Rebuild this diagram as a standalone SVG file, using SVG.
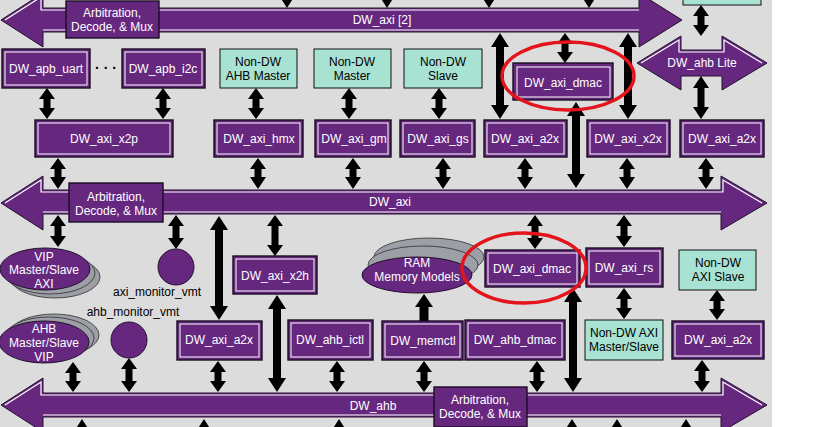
<svg xmlns="http://www.w3.org/2000/svg" width="816" height="427" viewBox="0 0 816 427">
<style>
.bar{fill:#66287f;stroke:#24102f;stroke-width:1}
.hl{fill:none;stroke:#ffffff;stroke-width:1.2}
.bx{fill:#66287f;stroke:#1a0c22;stroke-width:1.4}
.bi{fill:none;stroke:#ffffff;stroke-width:1}
.tl{fill:#a8e2d3;stroke:#111;stroke-width:1}
.el{fill:#66287f;stroke:#24102f;stroke-width:1}
.sh{fill:#9c9fa6;stroke:#2e2e2e;stroke-width:0.8}
.arr{fill:#000}
.red{fill:none;stroke:#e3141b;stroke-width:3.5}
text{font-family:"Liberation Sans",Arial,sans-serif;font-size:12px;text-anchor:middle;fill:#fff}
.k{fill:#000}
</style>
<rect x="0" y="0" width="816" height="427" fill="#fff"/>
<rect x="0" y="0" width="772" height="427" fill="#dcdcdc"/>

<g id="bus-axi2">
<polygon class="bar" points="1,20 43,-7 43,8 639,8 639,-7 682,20 639,47 639,32 43,32 43,47"/>
<polyline class="hl" points="5,20 41,-3 41,10 639,10"/>
<polyline class="hl" points="43,30 639,30"/>
<text x="382" y="24">DW_axi [2]</text>
</g>
<g id="bus-axi">
<polygon class="bar" points="1,203 43,176 43,190 721,190 721,176 767,203 721,230 721,214 43,214 43,230"/>
<polyline class="hl" points="5,203 41,180 41,192 723,192 723,180 762,203"/>
<polyline class="hl" points="43,212 721,212"/>
<text x="390" y="206">DW_axi</text>
</g>
<g id="bus-ahb">
<polygon class="bar" points="1,405 43,378 43,393 721,393 721,378 767,405 721,432 721,417 43,417 43,432"/>
<polyline class="hl" points="5,405 41,382 41,395 723,395 723,382 762,405"/>
<polyline class="hl" points="43,415 721,415"/>
<text x="373" y="410">DW_ahb</text>
</g>
<g id="bus-ahblite">
<polygon class="bar" points="637,63 681,36 681,50 722,50 722,36 767,63 722,90 722,76 681,76 681,90"/>
<polyline class="hl" points="641,63 679,40 679,52 724,52 724,40 762,63"/>
<text x="702" y="67">DW_ahb Lite</text>
</g>

<g id="arb-top"><rect class="bx" x="66" y="1" width="93" height="37"/><text x="112" y="17">Arbitration,</text><text x="112" y="31">Decode, &amp; Mux</text></g>
<g id="arb-mid"><rect class="bx" x="69" y="183" width="94" height="39"/><text x="116" y="201">Arbitration,</text><text x="116" y="215">Decode, &amp; Mux</text></g>
<g id="arb-bot"><rect class="bx" x="434" y="387" width="93" height="40"/><text x="480" y="404">Arbitration,</text><text x="480" y="418">Decode, &amp; Mux</text></g>

<g id="connectors" class="arr">
<polygon points="284,-12 290,-12 290,-3 294,-3 287,8 280,-3 284,-3"/>
<polygon points="384,-12 390,-12 390,-3 394,-3 387,8 380,-3 384,-3"/>
<polygon points="486,-12 492,-12 492,-3 496,-3 489,8 482,-3 486,-3"/>
<polygon points="586,-12 592,-12 592,-3 596,-3 589,8 582,-3 586,-3"/>
<polygon points="47,88 55,99 50.5,99 50.5,108 55,108 47,119 39,108 43.5,108 43.5,99 39,99"/>
<polygon points="163,88 171,99 166.5,99 166.5,108 171,108 163,119 155,108 159.5,108 159.5,99 155,99"/>
<polygon points="256,88 264,99 259.5,99 259.5,108 264,108 256,119 248,108 252.5,108 252.5,99 248,99"/>
<polygon points="349,88 357,99 352.5,99 352.5,108 357,108 349,119 341,108 345.5,108 345.5,99 341,99"/>
<polygon points="439,88 447,99 442.5,99 442.5,108 447,108 439,119 431,108 435.5,108 435.5,99 431,99"/>
<polygon points="565,33 573,44 568.5,44 568.5,52 573,52 565,63 557,52 561.5,52 561.5,44 557,44"/>
<polygon points="701,5 709,16 704.5,16 704.5,25 709,25 701,36 693,25 697.5,25 697.5,16 693,16"/>
<polygon points="701,76 709,88 704.5,88 704.5,107 709,107 701,119 693,107 697.5,107 697.5,88 693,88"/>
<polygon points="500,33 509,47 504,47 504,105 509,105 500,119 491,105 496,105 496,47 491,47"/>
<polygon points="628,33 637,47 632,47 632,105 637,105 628,119 619,105 624,105 624,47 619,47"/>
<polygon points="576,102 585,116 580,116 580,174 585,174 576,188 567,174 572,174 572,116 567,116"/>
<polygon points="58,158 66,169 61.5,169 61.5,177 66,177 58,189 50,177 54.5,177 54.5,169 50,169"/>
<polygon points="258,158 266,169 261.5,169 261.5,177 266,177 258,189 250,177 254.5,177 254.5,169 250,169"/>
<polygon points="353,158 361,169 356.5,169 356.5,177 361,177 353,189 345,177 349.5,177 349.5,169 345,169"/>
<polygon points="443,158 451,169 446.5,169 446.5,177 451,177 443,189 435,177 439.5,177 439.5,169 435,169"/>
<polygon points="525,158 533,169 528.5,169 528.5,177 533,177 525,189 517,177 521.5,177 521.5,169 517,169"/>
<polygon points="627,158 635,169 630.5,169 630.5,177 635,177 627,189 619,177 623.5,177 623.5,169 619,169"/>
<polygon points="706,158 714,169 709.5,169 709.5,177 714,177 706,189 698,177 702.5,177 702.5,169 698,169"/>
<polygon points="58,215 66,226 61.5,226 61.5,236 66,236 58,247 50,236 54.5,236 54.5,226 50,226"/>
<polygon points="176,215 184,226 179.5,226 179.5,238 184,238 176,249 168,238 172.5,238 172.5,226 168,226"/>
<polygon points="275,215 283,226 278.5,226 278.5,245 283,245 275,256 267,245 271.5,245 271.5,226 267,226"/>
<polygon points="535,215 543,226 538.5,226 538.5,238 543,238 535,249 527,238 531.5,238 531.5,226 527,226"/>
<polygon points="624,215 632,226 627.5,226 627.5,236 632,236 624,247 616,236 620.5,236 620.5,226 616,226"/>
<polygon points="219,216 228,230 223,230 223,306 228,306 219,320 210,306 215,306 215,230 210,230"/>
<polygon points="624,288 632,299 627.5,299 627.5,308 632,308 624,319 616,308 620.5,308 620.5,299 616,299"/>
<polygon points="717,290 725,301 720.5,301 720.5,309 725,309 717,320 709,309 713.5,309 713.5,301 709,301"/>
<polygon points="424,294 433,307 428.5,307 428.5,321 419.5,321 419.5,307 415,307"/>
<polygon points="277,295 286,309 281,309 281,378 286,378 277,392 268,378 273,378 273,309 268,309"/>
<polygon points="573,288 582,302 577,302 577,378 582,378 573,392 564,378 569,378 569,302 564,302"/>
<polygon points="73,362 81,373 76.5,373 76.5,381 81,381 73,392 65,381 69.5,381 69.5,373 65,373"/>
<polygon points="129,358 137,369 132.5,369 132.5,381 137,381 129,392 121,381 125.5,381 125.5,369 121,369"/>
<polygon points="218,361 226,372 221.5,372 221.5,381 226,381 218,392 210,381 214.5,381 214.5,372 210,372"/>
<polygon points="337,361 345,372 340.5,372 340.5,381 345,381 337,392 329,381 333.5,381 333.5,372 329,372"/>
<polygon points="424,361 432,372 427.5,372 427.5,381 432,381 424,392 416,381 420.5,381 420.5,372 416,372"/>
<polygon points="537,361 545,372 540.5,372 540.5,381 545,381 537,392 529,381 533.5,381 533.5,372 529,372"/>
<polygon points="702,360 710,371 705.5,371 705.5,381 710,381 702,392 694,381 698.5,381 698.5,371 694,371"/>
<polygon points="82,419 89,430 85,430 85,440 79,440 79,430 75,430"/>
<polygon points="204,419 211,430 207,430 207,440 201,440 201,430 197,430"/>
<polygon points="339,419 346,430 342,430 342,440 336,440 336,430 332,430"/>
<polygon points="572,419 579,430 575,430 575,440 569,440 569,430 565,430"/>
<polygon points="617,419 624,430 620,430 620,440 614,440 614,430 610,430"/>
<polygon points="686,419 693,430 689,430 689,440 683,440 683,430 679,430"/>
</g>

<g id="apb-uart"><rect class="bx" x="2" y="49" width="88" height="39"/><rect class="bi" x="5" y="52" width="82" height="33"/><text x="46" y="73">DW_apb_uart</text></g>
<g id="dots"><text class="k" x="106" y="73" style="font-size:14px;font-weight:bold">· · ·</text></g>
<g id="apb-i2c"><rect class="bx" x="122" y="49" width="83" height="39"/><rect class="bi" x="125" y="52" width="77" height="33"/><text x="163" y="73">DW_apb_i2c</text></g>
<g id="nondw-ahb-master"><rect class="tl" x="220" y="49" width="77" height="39"/><text class="k" x="258" y="66">Non-DW</text><text class="k" x="258" y="80">AHB Master</text></g>
<g id="nondw-master"><rect class="tl" x="314" y="49" width="77" height="39"/><text class="k" x="352" y="66">Non-DW</text><text class="k" x="352" y="80">Master</text></g>
<g id="nondw-slave"><rect class="tl" x="404" y="49" width="78" height="39"/><text class="k" x="443" y="66">Non-DW</text><text class="k" x="443" y="80">Slave</text></g>
<g id="axi-dmac-top"><rect class="bx" x="513" y="63" width="100" height="37"/><rect class="bi" x="517" y="67" width="93" height="30"/><text x="563" y="87">DW_axi_dmac</text></g>
<g id="teal-top"><rect class="tl" x="683" y="-30" width="78" height="35"/></g>

<g id="axi-x2p"><rect class="bx" x="35" y="120" width="138" height="37"/><rect class="bi" x="38" y="123" width="132" height="31"/><text x="104" y="143">DW_axi_x2p</text></g>
<g id="axi-hmx"><rect class="bx" x="214" y="120" width="89" height="37"/><rect class="bi" x="217" y="123" width="83" height="31"/><text x="259" y="143">DW_axi_hmx</text></g>
<g id="axi-gm"><rect class="bx" x="315" y="120" width="76" height="37"/><rect class="bi" x="318" y="123" width="70" height="31"/><text x="354" y="143">DW_axi_gm</text></g>
<g id="axi-gs"><rect class="bx" x="400" y="120" width="75" height="37"/><rect class="bi" x="403" y="123" width="69" height="31"/><text x="438" y="143">DW_axi_gs</text></g>
<g id="axi-a2x-1"><rect class="bx" x="484" y="120" width="83" height="37"/><rect class="bi" x="487" y="123" width="77" height="31"/><text x="525" y="143">DW_axi_a2x</text></g>
<g id="axi-x2x"><rect class="bx" x="587" y="120" width="83" height="37"/><rect class="bi" x="590" y="123" width="77" height="31"/><text x="628" y="143">DW_axi_x2x</text></g>
<g id="axi-a2x-2"><rect class="bx" x="680" y="120" width="84" height="37"/><rect class="bi" x="683" y="123" width="78" height="31"/><text x="722" y="143">DW_axi_a2x</text></g>

<g id="vip-axi">
<ellipse class="sh" cx="55" cy="277" rx="45" ry="21"/><ellipse class="sh" cx="50" cy="273" rx="45" ry="21"/>
<ellipse class="el" cx="45" cy="269" rx="45" ry="21"/>
<text x="44" y="261">VIP</text><text x="44" y="274">Master/Slave</text><text x="44" y="288">AXI</text>
</g>
<g id="axi-monitor"><circle class="el" cx="176" cy="267" r="18"/><text class="k" x="157" y="296">axi_monitor_vmt</text></g>
<g id="axi-x2h"><rect class="bx" x="233" y="256" width="84" height="38"/><rect class="bi" x="236" y="259" width="78" height="32"/><text x="275" y="280">DW_axi_x2h</text></g>
<g id="ram">
<ellipse class="sh" cx="429" cy="257" rx="55" ry="19"/><ellipse class="sh" cx="423" cy="265" rx="55" ry="19"/>
<ellipse class="el" cx="417" cy="275" rx="55" ry="18"/>
<text x="417" y="267">RAM</text><text x="417" y="281">Memory Models</text>
</g>
<g id="axi-dmac-mid"><rect class="bx" x="485" y="250" width="95" height="37"/><rect class="bi" x="488" y="253" width="89" height="31"/><text x="532" y="273">DW_axi_dmac</text></g>
<g id="axi-rs"><rect class="bx" x="586" y="248" width="77" height="39"/><rect class="bi" x="589" y="251" width="71" height="33"/><text x="624" y="272">DW_axi_rs</text></g>
<g id="nondw-axi-slave"><rect class="tl" x="679" y="250" width="77" height="40"/><text class="k" x="718" y="267">Non-DW</text><text class="k" x="718" y="281">AXI Slave</text></g>

<g id="ahb-monitor"><text class="k" x="133" y="316">ahb_monitor_vmt</text><circle class="el" cx="129" cy="340" r="18"/></g>
<g id="vip-ahb">
<ellipse class="sh" cx="54" cy="335" rx="45" ry="21"/><ellipse class="sh" cx="49" cy="338" rx="45" ry="21"/>
<ellipse class="el" cx="44" cy="342" rx="45" ry="21"/>
<text x="44" y="333">AHB</text><text x="44" y="347">Master/Slave</text><text x="44" y="361">VIP</text>
</g>
<g id="axi-a2x-3"><rect class="bx" x="177" y="321" width="85" height="39"/><rect class="bi" x="180" y="324" width="79" height="33"/><text x="219" y="344">DW_axi_a2x</text></g>
<g id="ahb-ictl"><rect class="bx" x="288" y="320" width="85" height="40"/><rect class="bi" x="291" y="323" width="79" height="34"/><text x="330" y="344">DW_ahb_ictl</text></g>
<g id="memctl"><rect class="bx" x="382" y="321" width="81" height="39"/><rect class="bi" x="385" y="324" width="75" height="33"/><text x="423" y="345">DW_memctl</text></g>
<g id="ahb-dmac"><rect class="bx" x="465" y="320" width="100" height="40"/><rect class="bi" x="468" y="323" width="94" height="34"/><text x="515" y="344">DW_ahb_dmac</text></g>
<g id="nondw-axi-ms"><rect class="tl" x="585" y="320" width="78" height="40"/><text class="k" x="624" y="337">Non-DW AXI</text><text class="k" x="624" y="351">Master/Slave</text></g>
<g id="axi-a2x-4"><rect class="bx" x="672" y="321" width="92" height="38"/><rect class="bi" x="675" y="324" width="86" height="32"/><text x="718" y="344">DW_axi_a2x</text></g>

<g id="highlights">
<ellipse class="red" cx="568" cy="76" rx="66" ry="34"/>
<ellipse class="red" cx="524" cy="268" rx="62" ry="35"/>
</g>
</svg>
